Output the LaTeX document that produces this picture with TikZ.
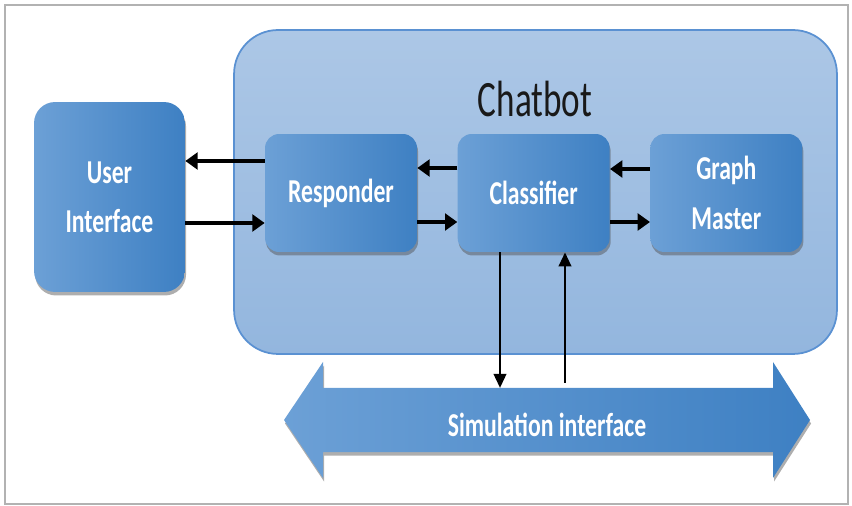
\documentclass[tikz,border=0pt]{standalone}
\usepackage{fontspec}
\setmainfont{Carlito}[FakeStretch=0.74, BoldFeatures={FakeStretch=0.71}]
\newfontfamily\titlefont{Carlito}[FakeStretch=0.69]
\usetikzlibrary{arrows.meta,shadows,positioning}

\definecolor{boxlight}{RGB}{108,160,214}
\definecolor{boxdark}{RGB}{62,128,195}
\definecolor{bottop}{RGB}{172,199,230}
\definecolor{botbottom}{RGB}{147,182,222}
\definecolor{botline}{RGB}{90,145,210}

\tikzset{
  block/.style={rounded corners=8pt, left color=boxlight, right color=boxdark,
    text=white, align=center, font=\fontsize{19}{28}\selectfont\bfseries,
    minimum width=3.04cm, minimum height=2.36cm,
    drop shadow={shadow xshift=0.6pt, shadow yshift=-2pt, opacity=0.45, fill=black!70}},
  arr/.style={line width=2.5pt, -{Triangle[length=7pt,width=9.5pt]}},
  varr/.style={line width=1.6pt, -{Triangle[length=8pt,width=7pt]}}
}

\begin{document}
\begin{tikzpicture}[x=0.02cm,y=-0.02cm]
\useasboundingbox (0,0) rectangle (852,506);
\draw[black!30, line width=1pt] (5,5) rectangle (848,504);

% chatbot container
\node[rounded corners=25pt, top color=bottop, bottom color=botbottom, draw=botline,
  line width=1pt, minimum width=12.06cm, minimum height=6.48cm] (bot) at (535.5,192) {};
\node[font=\fontsize{29}{34}\titlefont, text=black!90] (title) at (535,99) {Chatbot};

% blocks
\node[block, minimum width=3.02cm, minimum height=3.8cm, rounded corners=12pt] (ui) at (109.5,197) {User\\Interface};
\node[block] (resp) at (341,193) {Responder};
\node[block, right=0.8cm of resp] (cls) {Classifier};
\node[block, right=0.8cm of cls] (gm) {Graph\\Master};

% simulation interface
\shade[left color=boxlight, right color=boxdark,
  drop shadow={shadow xshift=0.6pt, shadow yshift=-2pt, opacity=0.45, fill=black!70}]
  (284,420) -- (323,362) -- (323,388) -- (773,388) -- (773,362) -- (810,420)
  -- (773,478) -- (773,452) -- (323,452) -- (323,478) -- cycle;
\node[text=white, font=\fontsize{19}{28}\selectfont\bfseries] (sim) at (547,425) {Simulation interface};
\coordinate (shaft) at (0,388);
\coordinate (shaftup) at (0,383);

% arrows
\draw[arr] (resp.west |- 0,161) -- (ui.east |- 0,161);
\draw[arr] (ui.east |- 0,223) -- (resp.west |- 0,223);
\draw[arr] (cls.west |- 0,168) -- (resp.east |- 0,168);
\draw[arr] (resp.east |- 0,222) -- (cls.west |- 0,222);
\draw[arr] (gm.west |- 0,169) -- (cls.east |- 0,169);
\draw[arr] (cls.east |- 0,222) -- (gm.west |- 0,222);
\draw[varr] (cls.south -| 500,0) -- (shaft -| 500,0);
\draw[varr] (shaftup -| 565,0) -- (cls.south -| 565,0);

\end{tikzpicture}
\end{document}
